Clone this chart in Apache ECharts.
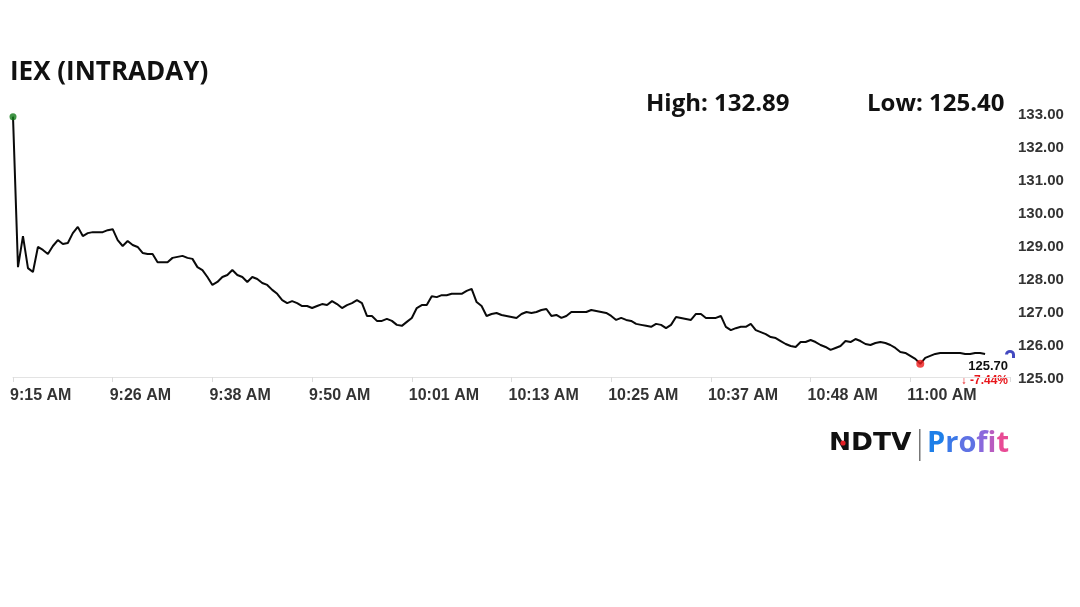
<!DOCTYPE html>
<html>
<head>
<meta charset="utf-8">
<title>IEX (INTRADAY)</title>
<script src="https://cdn.jsdelivr.net/npm/echarts@6.0.0/dist/echarts.min.js"></script>
<style>
  html, body { margin: 0; padding: 0; background: #ffffff; }
  #chart { width: 1080px; height: 607px; }
</style>
</head>
<body>
<div id="chart"></div>
<script>
// intraday prices, one reading per step
const prices = [
  132.89, 128.33, 129.27, 128.30, 128.18, 128.94, 128.85, 128.73, 128.97, 129.15,
  129.03, 129.06, 129.36, 129.55, 129.27, 129.36, 129.39, 129.39, 129.39, 129.45,
  129.48, 129.15, 128.97, 129.12, 129.00, 128.94, 128.76, 128.73, 128.73, 128.48,
  128.48, 128.48, 128.61, 128.64, 128.67, 128.61, 128.58, 128.33, 128.24, 128.03,
  127.79, 127.88, 128.03, 128.09, 128.24, 128.09, 128.03, 127.88, 128.03, 127.97,
  127.85, 127.79, 127.64, 127.52, 127.33, 127.24, 127.30, 127.24, 127.15, 127.15,
  127.09, 127.15, 127.21, 127.18, 127.30, 127.21, 127.09, 127.18, 127.24, 127.33,
  127.24, 126.85, 126.85, 126.70, 126.70, 126.76, 126.70, 126.58, 126.55, 126.67,
  126.79, 127.09, 127.18, 127.18, 127.45, 127.42, 127.48, 127.48, 127.52, 127.52,
  127.52, 127.61, 127.67, 127.27, 127.15, 126.85, 126.91, 126.94, 126.88, 126.85,
  126.82, 126.79, 126.91, 126.97, 126.94, 126.97, 127.03, 127.06, 126.85, 126.88,
  126.79, 126.85, 126.97, 126.97, 126.97, 126.97, 127.03, 127.00, 126.97, 126.94,
  126.85, 126.73, 126.79, 126.73, 126.70, 126.61, 126.58, 126.55, 126.52, 126.61,
  126.58, 126.48, 126.58, 126.82, 126.79, 126.76, 126.73, 126.91, 126.91, 126.79,
  126.79, 126.79, 126.85, 126.52, 126.42, 126.48, 126.52, 126.52, 126.61, 126.42,
  126.36, 126.30, 126.21, 126.18, 126.09, 126.00, 125.94, 125.91, 126.06, 126.06,
  126.12, 126.06, 125.97, 125.91, 125.82, 125.88, 125.94, 126.09, 126.06, 126.15,
  126.09, 126.00, 125.97, 126.03, 126.06, 126.03, 125.97, 125.88, 125.76, 125.73,
  125.64, 125.55, 125.40, 125.58, 125.64, 125.70, 125.73, 125.73, 125.73, 125.73,
  125.73, 125.70, 125.70, 125.73, 125.73, 125.70
];

// x tick labels, one every 20 steps
const timeLabels = ['9:15 AM', '9:26 AM', '9:38 AM', '9:50 AM', '10:01 AM',
  '10:13 AM', '10:25 AM', '10:37 AM', '10:48 AM', '11:00 AM'];

// [step, price]
const highPoint = [0, 132.89];
const lowPoint = [182, 125.40];
const lastPoint = [200, 125.70];
const changePct = '-7.44%';

// colours for the letters of the logo
const profitLetters = ['P', 'r', 'o', 'f', 'i', 't'];
const profitColors = ['#1e7fe8', '#3c79e8', '#5f72e4', '#8a69dc', '#b85cc0', '#e84b95'];

const chart = echarts.init(document.getElementById('chart'));

const profitRich = {};
profitLetters.forEach((c, i) => {
  profitRich['p' + i] = {
    fill: profitColors[i],
    font: 'bold 29px "Open Sans", sans-serif'
  };
});

const option = {
  backgroundColor: '#ffffff',
  animation: false,
  textStyle: { fontFamily: 'Liberation Sans, Arial, sans-serif' },
  grid: { left: 13, right: 70, top: 113, bottom: 230 },
  xAxis: {
    type: 'value',
    min: 0,
    max: 200,
    interval: 20,
    axisLine: { show: true, lineStyle: { color: '#e3e3e3', width: 1 } },
    axisTick: { show: true, length: 5, lineStyle: { color: '#dcdcdc' } },
    splitLine: { show: false },
    axisLabel: {
      margin: 11,
      align: 'left',
      padding: [0, 0, 0, -3],
      color: '#333',
      fontWeight: 'bold',
      fontSize: 16,
      formatter: v => timeLabels[v / 20] || ''
    }
  },
  yAxis: {
    type: 'value',
    position: 'right',
    min: 125,
    max: 133,
    interval: 1,
    axisLine: { show: false },
    axisTick: { show: false },
    splitLine: { show: false },
    axisLabel: {
      margin: 8,
      formatter: v => '{v|' + v.toFixed(2) + '}',
      rich: {
        v: {
          color: '#333',
          fontWeight: 'bold',
          fontSize: 15,
          padding: [4, 0, 0, 0]
        }
      }
    }
  },
  series: [
    {
      type: 'line',
      data: prices.map((p, i) => [i, p]),
      showSymbol: false,
      lineStyle: { color: '#0a0a0a', width: 2 },
      z: 2
    },
    {
      type: 'scatter',
      data: [highPoint],
      symbolSize: 7,
      itemStyle: { color: '#127a18' },
      z: 3
    },
    {
      type: 'scatter',
      data: [lowPoint],
      symbolSize: 8,
      itemStyle: { color: '#ee1c1c' },
      z: 3
    },
    {
      type: 'scatter',
      data: [lastPoint],
      clip: false,
      symbol: 'path://M0,10 A10,10 0 0 1 20,10 L20,17 L14,17 L14,10 A4,4 0 0 0 6,10 Z',
      symbolSize: [10, 8],
      itemStyle: { color: '#141cb0' },
      z: 3
    }
  ],
  graphic: [
    {
      type: 'text',
      style: { x: 10, y: 73, verticalAlign: 'middle', text: 'IEX (INTRADAY)', font: 'bold 26px "Open Sans", sans-serif', fill: '#111' }
    },
    {
      type: 'text',
      style: { x: 646, y: 104, verticalAlign: 'middle', text: 'High: 132.89', font: 'bold 24px "Open Sans", sans-serif', fill: '#111' }
    },
    {
      type: 'text',
      style: { x: 867, y: 104, verticalAlign: 'middle', text: 'Low: 125.40', font: 'bold 24px "Open Sans", sans-serif', fill: '#111' }
    },
    {
      type: 'text',
      style: { x: 1008, y: 366, align: 'right', verticalAlign: 'middle', text: lastPoint[1].toFixed(2), font: 'bold 13px "Liberation Sans", Arial, sans-serif', fill: '#111' }
    },
    {
      type: 'text',
      style: { x: 1008, y: 381, align: 'right', verticalAlign: 'middle', text: '\u2193 ' + changePct, font: 'bold 12px "Liberation Sans", Arial, sans-serif', fill: '#e8161b' }
    },
    {
      type: 'text',
      x: 829, y: 444, scaleX: 1.1,
      style: { x: 0, y: 0, verticalAlign: 'middle', text: 'NDTV', font: '900 24px "DejaVu Sans", sans-serif', fill: '#111' }
    },
    {
      type: 'circle', shape: { cx: 843, cy: 443, r: 2.6 },
      style: { fill: '#e31e24' }, z: 10
    },
    {
      type: 'rect', shape: { x: 919, y: 429, width: 1.5, height: 32 },
      style: { fill: '#777' }
    },
    {
      type: 'text',
      style: {
        x: 927, y: 444, verticalAlign: 'middle',
        text: profitLetters.map((c, i) => '{p' + i + '|' + c + '}').join(''),
        rich: profitRich
      }
    }
  ]
};

chart.setOption(option);
</script>
</body>
</html>
